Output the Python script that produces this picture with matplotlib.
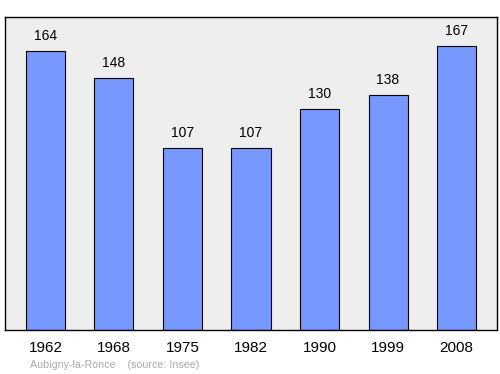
import matplotlib
matplotlib.use("Agg")
import matplotlib.pyplot as plt

years = ["1962", "1968", "1975", "1982", "1990", "1999", "2008"]
population = [164, 148, 107, 107, 130, 138, 167]

plt.rcParams['font.family'] = ['Liberation Sans', 'DejaVu Sans']

fig = plt.figure(figsize=(5.0, 3.74), dpi=100)
W, H = 500, 374
ax = fig.add_axes([5 / W, 1 - 330 / H, 492 / W, 313 / H])
ax.set_facecolor('#eeeeee')

x = list(range(len(years)))
ax.bar(x, population, width=0.57, color='#7799ff', edgecolor='#000000', linewidth=0.8, zorder=2)
for xi, v in zip(x, population):
    ax.annotate(str(v), (xi, v), xytext=(0, 11), textcoords='offset points',
                ha='center', va='center', fontsize=10, color='#000000')

ax.set_xlim(-0.59, 6.59)
ax.set_ylim(0, 184)
ax.set_yticks([])
ax.set_xticks(x)
ax.set_xticklabels(years, fontsize=11)
ax.tick_params(axis='x', length=0, pad=8)
for s in ax.spines.values():
    s.set_linewidth(1.0)
    s.set_color('#000000')

fig.text(30 / W, 1 - 365 / H, "Aubigny-la-Ronce    (source: Insee)", fontsize=7.7,
         color='#aaaaaa', ha='left', va='center')

fig.savefig("out.png", dpi=100)
